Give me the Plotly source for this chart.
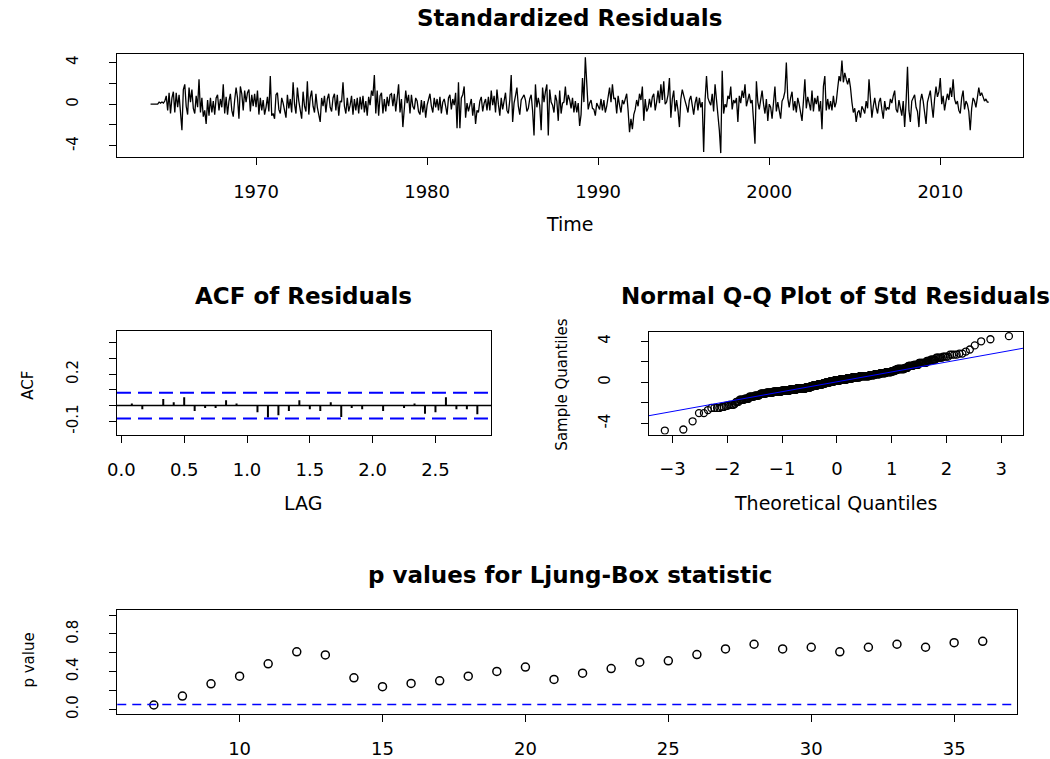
import numpy as np
import plotly.graph_objects as go
from statistics import NormalDist

W, H = 1050, 759
def px(x): return x / W
def py(y): return 1 - y / H

# ---------------- data ----------------
start_time = 1963 + 10 / 12      # Nov 1963, monthly
y1963 = [0.0, 0.0]
y1964 = [0.0, 0.0, 0.0, 0.0, 0.2, 0.1, 0.2, 0.1, 0.3, 0.8, -0.6, 1.1]
y1965 = [-0.9, 0.6, 1.2, -0.8, 1.1, -0.3, 0.9, -1.0, -2.5, 1.4, 1.9, -0.2]
y1966 = [-1.0, 1.6, 0.2, 1.4, -0.4, -0.9, 0.8, -0.3, 2.4, -0.8, 0.6, -1.2]
y1967 = [-0.6, -1.9, 0.4, -1.1, 0.6, -0.8, 0.3, -1.0, 0.6, 0.9, -0.6, 0.5]
y1968 = [-0.3, 1.9, -0.9, 0.7, -1.0, 0.3, 1.0, -0.6, -1.2, 0.4, 1.6, 0.6]
y1969 = [-1.4, 1.7, 1.0, -0.6, 1.3, 0.2, 1.1, 1.4, -0.7, 0.9, -0.2, 1.0]
y1970 = [-0.3, 1.3, -1.0, 0.6, -0.6, 0.4, -1.0, -0.3, 0.7, -0.7, 2.7, -1.1]
y1971 = [-0.9, -1.4, 0.9, 1.1, -0.5, -0.9, 0.6, 0.1, -0.7, -1.3, 0.9, -0.4]
y1972 = [0.5, -0.8, 2.1, 0.0, -0.9, 1.6, 0.3, -0.6, -1.4, 1.2, -0.2, -0.7]
y1973 = [2.2, -1.0, 0.6, 1.3, -0.2, -0.8, 1.0, -0.3, -1.1, -1.7, 0.6, -0.2]
y1974 = [0.8, -0.8, 0.5, 1.0, -0.3, -0.7, 0.6, 1.0, -0.6, 0.9, -1.1, 0.3]
y1975 = [0.2, 2.1, -0.2, -0.9, 0.6, -0.7, -0.1, 0.8, -1.0, 0.5, -0.6, 0.6]
y1976 = [-0.9, 0.7, -0.5, 0.8, -0.8, 0.3, -1.1, 0.7, -0.1, 1.3, 0.8, 2.8]
y1977 = [-0.9, 1.3, -1.1, 0.8, 1.1, -0.9, 0.5, -0.7, 0.7, -0.2, 0.9, 1.0]
y1978 = [-0.2, 1.0, -0.7, 0.7, 1.9, -0.8, 0.5, -2.2, -0.6, 1.3, 0.1, 0.9]
y1979 = [-0.9, 0.9, -0.2, -0.5, 0.6, 0.3, -0.7, -1.0, 0.4, -0.8, 0.3, -1.3]
y1980 = [-0.1, 0.5, 1.0, -0.2, -0.8, 0.6, -0.3, 0.5, -0.6, 0.7, -0.9, 0.2]
y1981 = [0.5, -0.2, -1.0, 0.6, 0.9, -0.5, 0.5, -0.1, 1.1, -2.3, 2.1, -2.3]
y1982 = [0.6, 0.9, 1.7, -1.3, 0.1, -0.7, -0.1, 0.5, -1.1, 0.1, -1.9, -0.6]
y1983 = [-0.8, 0.3, 0.7, -0.7, 0.1, 0.5, -0.6, 0.7, -0.6, 1.3, -0.1, 0.8]
y1984 = [-0.8, 1.4, 0.0, -1.1, 0.6, -0.5, 0.3, 1.1, -0.6, -0.9, 0.4, 2.8]
y1985 = [-1.7, 0.1, 0.8, 1.6, -0.2, -1.0, 0.4, 0.7, 0.9, 0.4, -0.7, -0.4]
y1986 = [0.5, 0.9, -0.6, -3.0, 1.9, -0.3, 0.6, -0.1, -2.5, 1.6, 0.2, 1.2]
y1987 = [1.9, -3.0, 1.4, 0.2, -0.1, -0.8, 0.9, 0.3, -1.6, 1.3, -0.9, 0.1]
y1988 = [0.2, 1.7, -0.1, 0.9, 0.4, -0.4, 0.6, -0.8, 0.3, -0.8, 0.1, -2.1]
y1989 = [-1.0, 2.5, 0.2, 4.5, 2.2, -0.5, 0.1, 0.4, -0.4, -0.5, -1.1, 0.1]
y1990 = [-0.2, -0.5, 0.5, -0.6, 0.4, -0.8, -0.2, 0.6, 1.6, 0.2, 1.9, 0.5]
y1991 = [0.6, -0.9, 0.8, -0.1, -0.8, 0.4, 0.0, 0.5, 1.0, -0.6, -2.7, -1.4]
y1992 = [-2.4, -1.0, -0.5, 0.4, -0.2, 1.0, 0.4, 1.7, -1.6, 0.5, -0.7, -0.4]
y1993 = [0.5, -0.3, 0.7, 1.0, -0.6, 0.2, 1.3, 0.1, 1.9, 0.4, 2.2, 0.0]
y1994 = [0.2, 0.9, 2.5, -1.3, 0.5, 1.3, -0.7, 0.4, -0.6, -2.2, 0.5, 1.4]
y1995 = [0.7, 0.3, -0.2, -0.8, 0.4, 0.8, -0.1, -1.0, 0.1, 0.7, -0.6, 0.6]
y1996 = [-0.3, 0.2, -4.6, 0.4, 2.7, 0.6, 0.2, -0.1, 1.0, -0.7, 1.9, 0.4]
y1997 = [-0.4, -2.5, -4.7, 3.2, -0.9, 0.0, -0.3, 0.8, 0.5, 1.7, -0.5, 0.4]
y1998 = [0.1, 0.6, -1.7, 0.8, 0.1, 1.3, 0.6, 1.9, -0.2, 0.5, 1.0, 0.1]
y1999 = [0.4, -1.6, -3.8, 2.2, 0.2, -0.5, 0.6, 1.3, 0.0, -0.9, 0.5, -1.6]
y2000 = [0.0, -0.3, -1.4, 0.5, 1.7, -0.7, 0.2, -0.6, -1.4, 0.3, 0.6, 1.2]
y2001 = [4.0, 0.6, -0.3, 0.6, 1.2, -0.6, 0.3, -0.8, 0.6, 0.0, -0.7, -1.6]
y2002 = [0.3, 2.4, -0.4, 0.7, 0.1, -0.6, 1.3, -0.7, 0.6, 0.0, 0.8, -0.7]
y2003 = [0.3, -2.4, 1.7, 2.7, -0.6, 0.5, -0.5, 0.3, -0.6, 0.8, -0.3, 0.2]
y2004 = [1.5, 2.7, 2.2, 4.2, 2.1, 3.0, 2.4, 1.9, 2.5, 1.6, 0.2, -0.8]
y2005 = [-0.4, -1.7, -0.8, -0.6, -1.3, -0.2, -0.5, -0.9, 0.3, -0.4, 2.4, 0.2]
y2006 = [-1.3, -0.2, 0.6, -0.3, -0.9, 0.2, 0.6, -0.5, -1.4, 0.3, -0.6, -0.3]
y2007 = [-0.5, 0.5, 0.1, 0.8, 1.3, -0.5, -0.8, 0.4, -0.2, -1.1, 0.3, -2.2]
y2008 = [0.2, 3.6, -0.6, -1.7, 0.3, 0.6, 0.9, -0.3, -0.7, -2.2, 0.3, 1.0]
y2009 = [0.3, -0.8, -1.9, 0.2, 0.7, 1.3, -0.1, -1.3, 0.5, 1.7, 0.7, 1.2]
y2010 = [2.5, 0.0, 0.8, -0.6, 0.3, 1.0, 0.4, 1.6, 0.7, 2.4, 0.5, 0.0]
y2011 = [0.3, -0.6, -0.9, 0.6, 1.3, -0.5, 0.3, 0.0, -0.7, -2.5, -0.4, 0.6]
y2012 = [0.3, -0.3, 0.6, 1.6, 0.8, 1.1, 0.7, 0.3, 0.5, 0.2, 0.2]

yearly = [y1963, y1964, y1965, y1966, y1967, y1968, y1969, y1970, y1971, y1972,
          y1973, y1974, y1975, y1976, y1977, y1978, y1979, y1980, y1981, y1982,
          y1983, y1984, y1985, y1986, y1987, y1988, y1989, y1990, y1991, y1992,
          y1993, y1994, y1995, y1996, y1997, y1998, y1999, y2000, y2001, y2002,
          y2003, y2004, y2005, y2006, y2007, y2008, y2009, y2010, y2011, y2012]
std_resid = [v for yr in yearly for v in yr]
time_index = [start_time + i / 12 for i in range(len(std_resid))]

acf_lags = list(range(1, 35))
acf_values = [0.013, -0.023, 0.003, 0.042, 0.021, 0.053, -0.034, -0.015, -0.015, 0.034,
              0.013, 0.002, -0.042, -0.076, -0.062, -0.034, 0.034, -0.023, -0.034, 0.021,
              -0.072, -0.015, -0.023, 0.002, -0.034, 0.002, -0.015, 0.013, -0.051, -0.042,
              0.053, -0.023, -0.023, -0.055]

lb_lags = list(range(7, 37))
lb_pvalues = [0.046, 0.141, 0.271, 0.352, 0.483, 0.610, 0.578, 0.335, 0.240, 0.275,
              0.303, 0.352, 0.402, 0.448, 0.317, 0.384, 0.433, 0.500, 0.515, 0.581,
              0.641, 0.691, 0.641, 0.659, 0.610, 0.659, 0.691, 0.659, 0.708, 0.722]

# ---------------- derived ----------------
n = len(std_resid)
nd = NormalDist()
sample_q = np.sort(np.array(std_resid))
theo_q = np.array([nd.inv_cdf((i + 0.5) / n) for i in range(n)])
q_y = np.quantile(np.array(std_resid), [0.25, 0.75])
q_x = np.array([nd.inv_cdf(0.25), nd.inv_cdf(0.75)])
slope = (q_y[1] - q_y[0]) / (q_x[1] - q_x[0])
intercept = q_y[0] - slope * q_x[0]
qq_xr = [-3.43, 3.40]
acf_bound = 2 / np.sqrt(n)

acf_x, acf_y = [], []
for lag, v in zip(acf_lags, acf_values):
    acf_x += [lag / 12, lag / 12, None]
    acf_y += [0, v, None]

FONT = "DejaVu Sans"
fig = go.Figure()
fig.add_trace(go.Scatter(x=time_index, y=std_resid, mode="lines",
                         line=dict(color="black", width=1.3), xaxis="x", yaxis="y"))
fig.add_trace(go.Scatter(x=acf_x, y=acf_y, mode="lines",
                         line=dict(color="black", width=2), xaxis="x2", yaxis="y2"))
fig.add_trace(go.Scatter(x=theo_q, y=sample_q, mode="markers",
                         marker=dict(symbol="circle-open", size=7, color="black",
                                     line=dict(width=1.3, color="black")),
                         xaxis="x3", yaxis="y3"))
fig.add_trace(go.Scatter(x=qq_xr, y=[intercept + slope * v for v in qq_xr], mode="lines",
                         line=dict(color="blue", width=1), xaxis="x3", yaxis="y3"))
fig.add_trace(go.Scatter(x=lb_lags, y=lb_pvalues, mode="markers",
                         marker=dict(symbol="circle-open", size=8, color="black",
                                     line=dict(width=1.5, color="black")),
                         xaxis="x4", yaxis="y4"))

shapes = [
    dict(type="line", xref="x2 domain", yref="y2", x0=0, x1=1, y0=0, y1=0,
         line=dict(color="black", width=1.5)),
    dict(type="line", xref="x2 domain", yref="y2", x0=0, x1=1, y0=acf_bound, y1=acf_bound,
         line=dict(color="blue", width=2, dash="14px,7px")),
    dict(type="line", xref="x2 domain", yref="y2", x0=0, x1=1, y0=-acf_bound, y1=-acf_bound,
         line=dict(color="blue", width=2, dash="14px,7px")),
    dict(type="line", xref="x4 domain", yref="y4", x0=0, x1=1, y0=0.05, y1=0.05,
         line=dict(color="blue", width=1.5, dash="9px,6px")),
]

def xax(domain, anchor, rng, tickvals, ticktext=None):
    d = dict(domain=domain, anchor=anchor, range=rng, tickvals=tickvals,
             showline=True, linecolor="black", linewidth=1.3, mirror=True,
             ticks="outside", ticklen=7, tickcolor="black", tickwidth=1.3,
             showgrid=False, zeroline=False, ticklabelstandoff=11,
             tickfont=dict(family=FONT, size=18, color="black"))
    if ticktext is not None:
        d["ticktext"] = ticktext
    return d

def yax(domain, anchor, rng, tickvals, ticktext):
    return dict(domain=domain, anchor=anchor, range=rng, tickvals=tickvals, ticktext=ticktext,
                showline=True, linecolor="black", linewidth=1.3, mirror=True,
                ticks="outside", ticklen=7, tickcolor="black", tickwidth=1.3,
                showgrid=False, zeroline=False, tickangle=-90, ticklabelstandoff=25,
                tickfont=dict(family=FONT, size=15, color="black"))

layout = dict(
    width=W, height=H, margin=dict(l=0, r=0, t=0, b=0),
    paper_bgcolor="white", plot_bgcolor="white", showlegend=False,
    xaxis=xax([px(108), px(1023)], "y", [1961.87, 2014.85], [1970, 1980, 1990, 2000, 2010]),
    yaxis=yax([py(158), py(54)], "x", [-5.05, 4.86], [-4, -2, 0, 2, 4], ["-4", "", "0", "", "4"]),
    xaxis2=xax([px(108), px(486)], "y2", [-0.035, 2.945], [0, 0.5, 1, 1.5, 2, 2.5],
               ["0.0", "0.5", "1.0", "1.5", "2.0", "2.5"]),
    yaxis2=yax([py(438.3), py(333.5)], "x2", [-0.186, 0.476],
               [-0.1, 0, 0.1, 0.2, 0.3, 0.4], ["-0.1", "", "", "0.2", "", ""]),
    xaxis3=xax([px(645), px(1023)], "y3", qq_xr, [-3, -2, -1, 0, 1, 2, 3]),
    yaxis3=yax([py(438), py(334.3)], "x3", [-5.09, 4.94], [-4, -2, 0, 2, 4], ["-4", "", "0", "", "4"]),
    xaxis4=xax([px(108.3), px(1016.7)], "y4", [5.72, 37.2], [10, 15, 20, 25, 30, 35]),
    yaxis4=yax([py(720), py(615)], "x4", [-0.053, 1.053],
               [0, 0.2, 0.4, 0.6, 0.8, 1.0], ["0.0", "", "0.4", "", "0.8", ""]),
    shapes=shapes,
)

def ann(text, x, y, size, bold=False, angle=0):
    return dict(text=f"<b>{text}</b>" if bold else text, x=px(x), y=py(y),
                xref="paper", yref="paper", xanchor="center", yanchor="middle",
                showarrow=False, textangle=angle,
                font=dict(family=FONT, size=size, color="black"))

layout["annotations"] = [
    ann("Standardized Residuals", 565, 18, 23, bold=True),
    ann("Time", 565, 226, 19),
    ann("ACF of Residuals", 296, 298, 23, bold=True),
    ann("LAG", 296, 507, 19),
    ann("ACF", 18, 388, 15, angle=-90),
    ann("Normal Q-Q Plot of Std Residuals", 833, 298, 23, bold=True),
    ann("Theoretical Quantiles", 833, 507, 19),
    ann("Sample Quantiles", 557, 388, 15, angle=-90),
    ann("p values for Ljung-Box statistic", 565, 580, 23, bold=True),
    ann("p value", 19, 665, 15, angle=-90),
]

fig.update_layout(**layout)
fig.write_html("out.html")
